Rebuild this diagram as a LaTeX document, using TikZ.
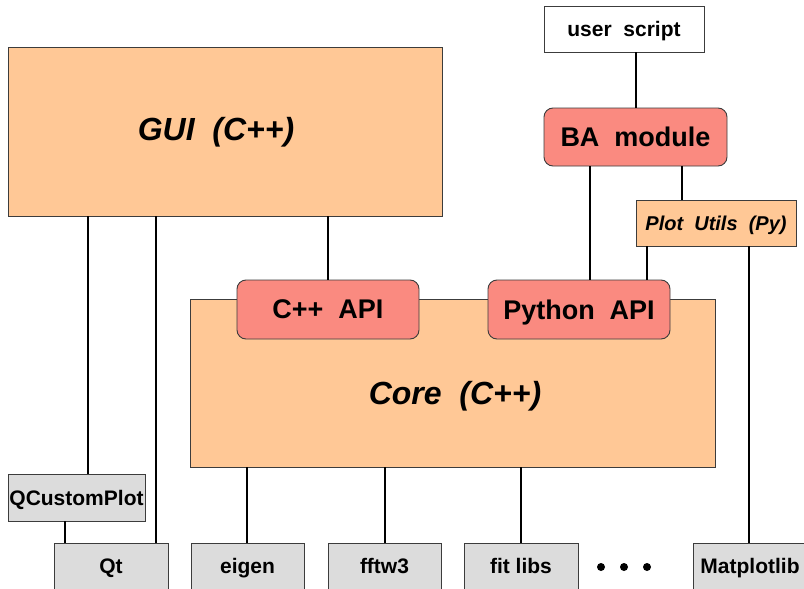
\documentclass[tikz,border=0pt]{standalone}
\usepackage{fontspec}
\setmainfont{Liberation Sans}
\definecolor{peach}{RGB}{255,200,150}
\definecolor{salmon}{RGB}{250,138,128}
\definecolor{libgray}{RGB}{220,220,220}
\definecolor{edge}{RGB}{60,60,60}
\begin{document}
\begin{tikzpicture}[x=1pt,y=-1pt,
  box/.style={draw=edge,line width=0.9pt,inner sep=0pt,text depth=0pt,font=\bfseries},
  orangebox/.style={box,fill=peach},
  apibox/.style={box,fill=salmon,rounded corners=9pt},
  libbox/.style={box,fill=libgray,minimum width=113pt,minimum height=46pt,font=\bfseries\fontsize{21}{24}\selectfont},
  link/.style={line width=1.8pt,black},
  bigtext/.style={inner sep=0pt,font=\bfseries\itshape\fontsize{32}{36}\selectfont}]
\useasboundingbox (0,0) rectangle (804,589);
\fill[white] (0,0) rectangle (804,589);

% x positions of connectors
\coordinate (x65) at (65,0);
\coordinate (x88) at (88,0);
\coordinate (x156) at (156,0);
\coordinate (x247) at (247,0);
\coordinate (x328) at (328,0);
\coordinate (x385) at (385,0);
\coordinate (x521) at (521,0);
\coordinate (x590) at (590,0);
\coordinate (x636) at (636,0);
\coordinate (x647) at (647,0);
\coordinate (x682) at (682,0);
\coordinate (x749) at (749,0);

% boxes
\node[box,fill=white,minimum width=160pt,minimum height=46pt,font=\bfseries\fontsize{21}{24}\selectfont] (user) at (624,29) {user~~script};
\node[orangebox,minimum width=434pt,minimum height=169pt] (gui) at (225,131.5) {};
\node[bigtext] (guitext) at (216,132) {GUI~~(C++)};
\node[apibox,minimum width=183pt,minimum height=58pt,font=\bfseries\fontsize{27}{30}\selectfont] (ba) at (635.5,137) {BA~~module};
\node[orangebox,minimum width=160pt,minimum height=46pt,font=\bfseries\itshape\fontsize{20}{23}\selectfont] (plot) at (716,223) {Plot~~Utils~~(Py)};
\node[orangebox,minimum width=525pt,minimum height=168pt] (core) at (452.5,383) {};
\node[bigtext] (coretext) at (455,396) {Core~~(C++)};
\node[apibox,minimum width=182pt,minimum height=59pt,font=\bfseries\fontsize{27}{30}\selectfont] (cppapi) at (328,309.5) {C++~~API};
\node[apibox,minimum width=182pt,minimum height=59pt,font=\bfseries\fontsize{27}{30}\selectfont] (pyapi) at (579,309.5) {Python~~API};
\node[libbox,minimum width=137pt,minimum height=47pt] (qcp) at (76.5,497.5) {QCustomPlot};
\node[libbox,minimum width=114pt] (qt) at (111,566) {Qt};
\node[libbox] (eigen) at (247.5,566) {eigen};
\node[libbox] (fftw) at (384.5,566) {fftw3};
\node[libbox,minimum width=114pt] (fit) at (521,566) {fit libs};
\node[libbox,minimum width=114pt] (mpl) at (750,566) {Matplotlib};
\fill (601,567) circle (4pt) (624,567) circle (4pt) (647,567) circle (4pt);

% connectors
\draw[link] (gui.south -| x88) -- (qcp.north -| x88);
\draw[link] (gui.south -| x156) -- (qt.north -| x156);
\draw[link] (qcp.south -| x65) -- (qt.north -| x65);
\draw[link] (gui.south -| x328) -- (cppapi.north -| x328);
\draw[link] (user.south -| x636) -- (ba.north -| x636);
\draw[link] (ba.south -| x590) -- (pyapi.north -| x590);
\draw[link] (ba.south -| x682) -- (plot.north -| x682);
\draw[link] (plot.south -| x647) -- (pyapi.north -| x647);
\draw[link] (plot.south -| x749) -- (mpl.north -| x749);
\draw[link] (core.south -| x247) -- (eigen.north -| x247);
\draw[link] (core.south -| x385) -- (fftw.north -| x385);
\draw[link] (core.south -| x521) -- (fit.north -| x521);
\end{tikzpicture}
\end{document}
